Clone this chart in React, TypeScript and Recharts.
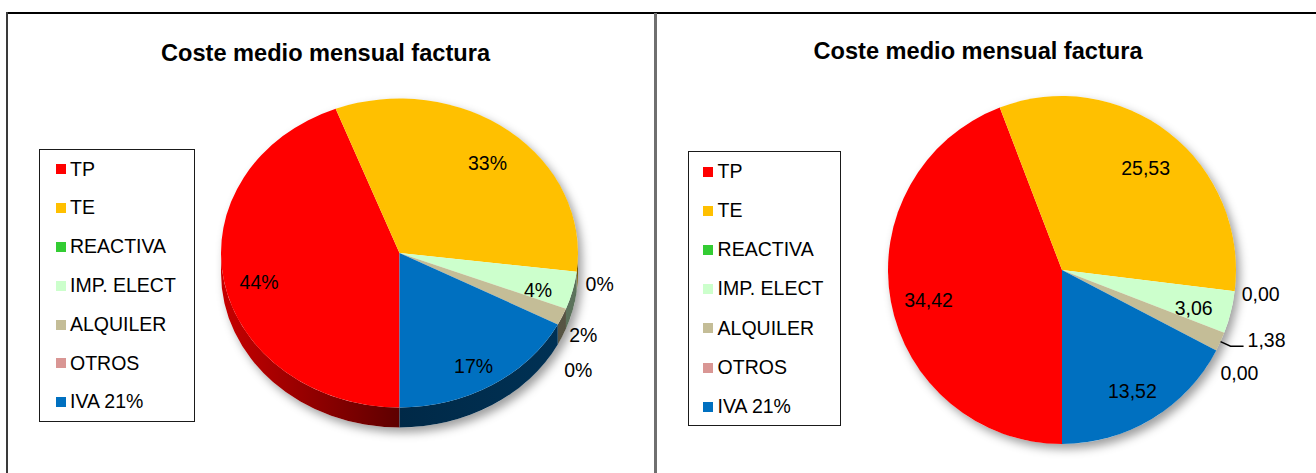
import React from 'react';
import { PieChart, Pie, Cell, Legend } from 'recharts';

// ---------- data ----------
const categories = ['TP', 'TE', 'REACTIVA', 'IMP. ELECT', 'ALQUILER', 'OTROS', 'IVA 21%'];
const costValues = [34.42, 25.53, 0.0, 3.06, 1.38, 0.0, 13.52];
const sliceColors = ['#ff0000', '#ffc000', '#33cc33', '#ccffcc', '#c4bd97', '#d99694', '#0070c0'];
const chartTitle = 'Coste medio mensual factura';

const pieData = categories.map((name, i) => ({ name, value: costValues[i], fill: sliceColors[i] }));

// ---------- helpers ----------
const START = -90;
const END = -450;
const FONT = '"Liberation Sans", Arial, Helvetica, sans-serif';

function darken(hex: string, f: number) {
  const h = hex.replace('#', '');
  const r = Math.round(parseInt(h.slice(0, 2), 16) * f);
  const g = Math.round(parseInt(h.slice(2, 4), 16) * f);
  const b = Math.round(parseInt(h.slice(4, 6), 16) * f);
  const t = (v: number) => v.toString(16).padStart(2, '0');
  return '#' + t(r) + t(g) + t(b);
}

function pt(cx: number, cy: number, rx: number, ry: number, a: number) {
  const r = (a * Math.PI) / 180;
  return [cx + rx * Math.cos(r), cy - ry * Math.sin(r)];
}

function makeShape(chartId: string, ratio: number, depth: number) {
  return (props: any) => {
    const { cx, cy, outerRadius, startAngle, endAngle, fill, name } = props;
    const rx = outerRadius;
    const ry = outerRadius * ratio;
    const s = Math.max(startAngle, endAngle);
    const e = Math.min(startAngle, endAngle);
    const span = s - e;
    const els: any[] = [];
    const gid = `side-${chartId}-${String(name).replace(/[^a-zA-Z0-9]/g, '')}`;

    if (Math.abs(startAngle - START) < 1e-6) {
      els.push(
        <g key="under" style={{ filter: 'drop-shadow(4px 5px 5px rgba(0,0,0,0.38))' }}>
          <ellipse cx={cx} cy={cy} rx={rx} ry={ry} fill="#ffffff" />
          {depth > 0 && <rect x={cx - rx} y={cy} width={2 * rx} height={depth} fill="#ffffff" />}
          {depth > 0 && <ellipse cx={cx} cy={cy + depth} rx={rx} ry={ry} fill="#ffffff" />}
        </g>
      );
    }
    if (span > 1e-6) {
      if (depth > 0) {
        const ranges = [
          [-180, -90],
          [-450, -360],
        ];
        ranges.forEach(([lo, hi], k) => {
          const a = Math.max(e, lo);
          const b = Math.min(s, hi);
          if (b - a > 1e-6) {
            const p1 = pt(cx, cy, rx, ry, b);
            const p2 = pt(cx, cy, rx, ry, a);
            const d = `M${p1[0]},${p1[1]} A${rx},${ry} 0 0 1 ${p2[0]},${p2[1]} L${p2[0]},${p2[1] + depth} A${rx},${ry} 0 0 0 ${p1[0]},${p1[1] + depth} Z`;
            els.push(
              <defs key={`defs${k}`}>
                <linearGradient id={`${gid}-${k}`} gradientUnits="userSpaceOnUse" x1={cx - rx} y1={0} x2={cx + rx} y2={0}>
                  <stop offset="0" stopColor={darken(fill, 0.78)} />
                  <stop offset="0.5" stopColor={darken(fill, 0.37)} />
                  <stop offset="1" stopColor={darken(fill, 0.45)} />
                </linearGradient>
              </defs>
            );
            els.push(<path key={`side${k}`} d={d} fill={`url(#${gid}-${k})`} stroke="none" />);
          }
        });
      }
      const p1 = pt(cx, cy, rx, ry, s);
      const p2 = pt(cx, cy, rx, ry, e);
      const large = span > 180 ? 1 : 0;
      const d = `M${cx},${cy} L${p1[0]},${p1[1]} A${rx},${ry} 0 ${large} 1 ${p2[0]},${p2[1]} Z`;
      els.push(<path key="top" d={d} fill={fill} stroke="none" />);
    }
    return <g>{els}</g>;
  };
}

type LabelCfg = {
  ratio: number;
  depth: number;
  insideR: number;
  insideDy: number;
  outsideR: number;
  gap: number;
  leader: boolean;
  format: (v: number, p: number) => string;
  state: { lastY: number };
};

function makeLabel(cfg: LabelCfg) {
  return (props: any) => {
    const { cx, cy, midAngle, outerRadius, percent, value, index } = props;
    if (index === 0) cfg.state.lastY = -Infinity;
    const rx = outerRadius;
    const ry = outerRadius * cfg.ratio;
    const rad = (midAngle * Math.PI) / 180;
    const c = Math.cos(rad);
    const s = Math.sin(rad);
    const text = cfg.format(value, percent);
    const textStyle = { fontFamily: FONT, fontSize: 19.5, fill: '#000000' };
    if (percent >= 0.03) {
      const x = cx + rx * cfg.insideR * c;
      const y = cy - ry * cfg.insideR * s + cfg.depth * 0.3 + cfg.insideDy;
      return (
        <text x={x} y={y} textAnchor="middle" dominantBaseline="central" style={textStyle}>
          {text}
        </text>
      );
    }
    if (cfg.leader && value > 0) {
      const p1 = [cx + rx * c, cy - ry * s];
      const p2 = [cx + (rx + 11) * c, cy - (ry + 11) * s];
      const p3 = [p2[0] + 13, p2[1]];
      cfg.state.lastY = p3[1] - 6;
      return (
        <g>
          <path d={`M${p1[0]},${p1[1]} L${p2[0]},${p2[1]} L${p3[0]},${p3[1]}`} stroke="#000000" strokeWidth={1.4} fill="none" />
          <text x={p3[0] + 4} y={p3[1] + 1} textAnchor="start" style={textStyle}>
            {text}
          </text>
        </g>
      );
    }
    const x = cx + rx * cfg.outsideR * c;
    let y = cy - ry * cfg.outsideR * s + (s < 0 ? cfg.depth * 0.5 : 0);
    y = Math.max(y, cfg.state.lastY + cfg.gap);
    cfg.state.lastY = y;
    return (
      <text x={x} y={y} textAnchor="middle" dominantBaseline="central" style={textStyle}>
        {text}
      </text>
    );
  };
}

type LegendBox = { w: number; h: number; padL: number; gap: number; itemH: number };

function makeLegend(box: LegendBox) {
  return (props: any) => {
    const given: any[] = (props && props.payload) || [];
    // keep the series order of the data (Excel legend order)
    const items = categories.map((c, i) => {
      const found = given.find((p: any) => p && p.value === c);
      return { value: c, color: (found && found.color) || sliceColors[i] };
    });
    return (
      <div
        style={{
          boxSizing: 'border-box',
          width: box.w,
          height: box.h,
          border: '1px solid #1a1a1a',
          background: '#ffffff',
          paddingLeft: box.padL,
          fontFamily: FONT,
          fontSize: 19.5,
          color: '#000000',
          overflow: 'hidden',
        }}
      >
        {items.map((p: any, i: number) => (
          <div key={i} style={{ display: 'flex', alignItems: 'center', height: box.itemH }}>
            <span
              style={{
                display: 'inline-block',
                width: 10,
                height: 10,
                background: p.color,
                marginRight: box.gap,
                flexShrink: 0,
              }}
            />
            <span style={{ lineHeight: 1, whiteSpace: 'nowrap' }}>{p.value}</span>
          </div>
        ))}
      </div>
    );
  };
}

const leftLabelState = { lastY: -Infinity };
const rightLabelState = { lastY: -Infinity };

const leftLabel = makeLabel({
  ratio: 0.8655,
  depth: 20,
  insideR: 0.8,
  insideDy: 1,
  outsideR: 1.13,
  gap: 35,
  leader: false,
  format: (_v, p) => `${Math.round(p * 100)}%`,
  state: leftLabelState,
});

const rightLabel = makeLabel({
  ratio: 1,
  depth: 0,
  insideR: 0.78,
  insideDy: 5,
  outsideR: 1.15,
  gap: 32.5,
  leader: true,
  format: (v) => v.toFixed(2).replace('.', ','),
  state: rightLabelState,
});

const leftShape = makeShape('L', 0.8655, 20);
const rightShape = makeShape('R', 1, 0);

const titleStyle: React.CSSProperties = {
  position: 'absolute',
  textAlign: 'center',
  fontFamily: FONT,
  fontWeight: 'bold',
  fontSize: 23.6,
  lineHeight: 1,
  color: '#000000',
  whiteSpace: 'nowrap',
};

export default function App() {
  return (
    <div style={{ position: 'absolute', left: 0, top: 0, width: 1316, height: 473, background: '#ffffff', overflow: 'hidden' }}>
      {/* frame lines */}
      <div style={{ position: 'absolute', left: 6, top: 12, width: 1310, height: 2, background: '#000000' }} />
      <div style={{ position: 'absolute', left: 6, top: 12, width: 2, height: 461, background: '#3a3a3a' }} />
      <div style={{ position: 'absolute', left: 654, top: 13, width: 3, height: 460, background: '#6f6f6f' }} />

      {/* left chart */}
      <div style={{ position: 'absolute', left: 0, top: 0, width: 655, height: 473 }}>
        <PieChart width={655} height={473} margin={{ top: 0, right: 0, bottom: 0, left: 0 }}>
          <Pie
            data={pieData}
            dataKey="value"
            nameKey="name"
            cx={399.5}
            cy={253}
            outerRadius={178.5}
            startAngle={START}
            endAngle={END}
            stroke="none"
            isAnimationActive={false}
            labelLine={false}
            label={leftLabel}
            shape={leftShape}
            activeShape={leftShape}
            inactiveShape={leftShape}
          >
            {pieData.map((d, i) => (
              <Cell key={d.name} fill={sliceColors[i]} />
            ))}
          </Pie>
          <Legend
            layout="vertical"
            align="center"
            verticalAlign="middle"
            itemSorter={null as any}
            content={makeLegend({ w: 156, h: 273, padL: 16, gap: 4, itemH: 38.8 })}
            wrapperStyle={{ position: 'absolute', left: 39, top: 149, width: 156, height: 273, margin: 0 }}
          />
        </PieChart>
        <div style={{ ...titleStyle, left: 0, width: 651, top: 42 }}>{chartTitle}</div>
      </div>

      {/* right chart */}
      <div style={{ position: 'absolute', left: 656, top: 0, width: 660, height: 473 }}>
        <PieChart width={660} height={473} margin={{ top: 0, right: 0, bottom: 0, left: 0 }}>
          <Pie
            data={pieData}
            dataKey="value"
            nameKey="name"
            cx={406}
            cy={270}
            outerRadius={174}
            startAngle={START}
            endAngle={END}
            stroke="none"
            isAnimationActive={false}
            labelLine={false}
            label={rightLabel}
            shape={rightShape}
            activeShape={rightShape}
            inactiveShape={rightShape}
          >
            {pieData.map((d, i) => (
              <Cell key={d.name} fill={sliceColors[i]} />
            ))}
          </Pie>
          <Legend
            layout="vertical"
            align="center"
            verticalAlign="middle"
            itemSorter={null as any}
            content={makeLegend({ w: 153, h: 275, padL: 14, gap: 4.6, itemH: 39.2 })}
            wrapperStyle={{ position: 'absolute', left: 32, top: 151, width: 153, height: 275, margin: 0 }}
          />
        </PieChart>
        <div style={{ ...titleStyle, left: 0, width: 644, top: 40 }}>{chartTitle}</div>
      </div>
    </div>
  );
}
